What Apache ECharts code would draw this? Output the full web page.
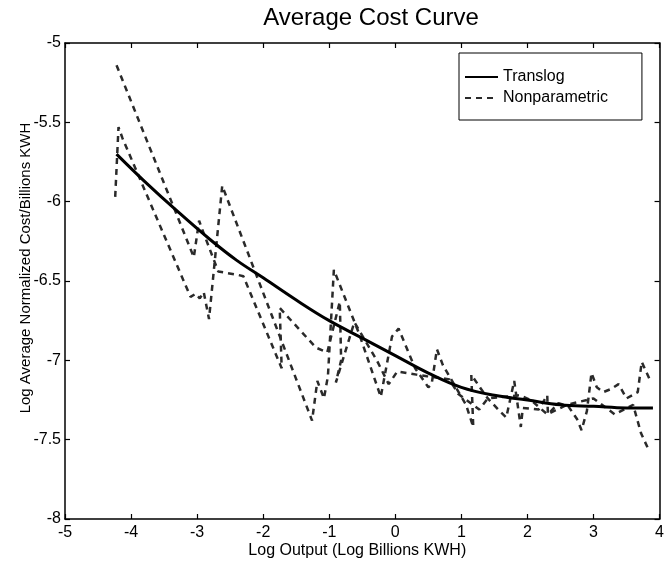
<!DOCTYPE html>
<html>
<head>
<meta charset="utf-8">
<script src="https://cdn.jsdelivr.net/npm/echarts@6/dist/echarts.min.js"></script>
<style>
html,body{margin:0;padding:0;background:#fff;}
#chart{width:667px;height:564px;}
</style>
</head>
<body>
<div id="chart"></div>
<script>
// ---- data ----
const chartTitle = 'Average Cost Curve';
const xAxisName = 'Log Output (Log Billions KWH)';
const yAxisName = 'Log Average Normalized Cost/Billions KWH';
const seriesNames = ['Translog', 'Nonparametric'];

const translogX = [-4.22, -3.8, -3.3, -2.8, -2.4, -2.0, -1.5, -1.0, -0.5, 0.0, 0.5, 1.0, 1.5, 2.0, 2.5, 3.0, 3.5, 3.9];
const translogY = [-5.70, -5.87, -6.06, -6.24, -6.37, -6.48, -6.62, -6.75, -6.86, -6.97, -7.08, -7.17, -7.22, -7.25, -7.28, -7.29, -7.30, -7.30];

// nonparametric estimate, first strand (path order)
const nonparA_X = [-4.24, -4.19, -4.13, -3.10, -3.02, -2.96, -2.90, -2.82, -2.62, -1.26, -1.18, -1.08, -1.02, -0.93, -0.55, -0.22, -0.05, 0.05, 0.30, 0.50, 0.55, 0.63, 0.72, 1.07, 1.18, 1.15, 1.28, 1.40, 1.58, 1.68, 1.80, 1.90, 1.93, 2.17, 2.30, 2.31, 2.47, 2.62, 2.75, 2.82, 2.90, 2.97, 3.05, 3.15, 3.27, 3.38, 3.50, 3.67, 3.73, 3.85];
const nonparA_Y = [-5.97, -5.53, -5.60, -6.60, -6.58, -6.61, -6.57, -6.74, -5.90, -7.38, -7.13, -7.24, -7.10, -6.43, -6.83, -7.23, -6.85, -6.80, -7.05, -7.17, -7.15, -6.93, -7.03, -7.28, -7.42, -7.09, -7.17, -7.24, -7.32, -7.36, -7.13, -7.42, -7.30, -7.31, -7.22, -7.34, -7.27, -7.29, -7.37, -7.44, -7.32, -7.08, -7.17, -7.20, -7.18, -7.15, -7.24, -7.20, -7.01, -7.12];

// nonparametric estimate, second strand (path order)
const nonparB_X = [-4.22, -3.05, -2.97, -2.90, -2.68, -2.40, -2.30, -1.72, -1.75, -1.20, -1.03, -0.84, -0.82, -0.90, -0.62, -0.28, -0.10, 0.03, 0.32, 0.48, 0.82, 0.95, 1.27, 1.40, 1.88, 2.05, 2.30, 2.60, 3.00, 3.32, 3.60, 3.72, 3.83];
const nonparB_Y = [-5.14, -6.35, -6.12, -6.20, -6.44, -6.46, -6.47, -7.05, -6.67, -6.92, -6.95, -6.63, -7.00, -7.14, -6.76, -7.00, -7.15, -7.07, -7.09, -7.10, -7.12, -7.21, -7.31, -7.24, -7.22, -7.25, -7.34, -7.28, -7.24, -7.34, -7.28, -7.46, -7.56];

const xMin = -5, xMax = 4, xStep = 1;
const yMin = -8, yMax = -5, yStep = 0.5;

function zip(xs, ys) { return xs.map((x, i) => [x, ys[i]]); }

const FONT = '"Liberation Sans", Arial, Helvetica, sans-serif';
const chart = echarts.init(document.getElementById('chart'), null, {renderer: 'canvas'});

const axisLine = {show: true, onZero: false, lineStyle: {color: '#000', width: 1.5}};
const axisTick = {show: true, inside: true, length: 5, lineStyle: {color: '#000', width: 1.2}};
const dashStyle = {color: '#2a2a2a', width: 2.5, type: [6, 5]};

chart.setOption({
  animation: false,
  backgroundColor: '#fff',
  color: ['#000', '#2a2a2a', '#2a2a2a'],
  title: {
    text: chartTitle,
    left: 366,
    textAlign: 'center',
    top: 1,
    textStyle: {fontFamily: FONT, fontSize: 24, fontWeight: 'normal', color: '#000'}
  },
  legend: {
    data: seriesNames,
    orient: 'vertical',
    left: 459,
    top: 53,
    padding: [16, 34, 14, 5],
    itemGap: 5,
    itemWidth: 33,
    itemHeight: 14,
    borderColor: '#000',
    borderWidth: 1,
    backgroundColor: '#fff',
    itemStyle: {opacity: 0},
    textStyle: {fontFamily: FONT, fontSize: 16, color: '#000', lineHeight: 16}
  },
  grid: {left: 65, right: 2, top: 43, bottom: 45, containLabel: false},
  xAxis: [{
    type: 'value', min: xMin, max: xMax, interval: xStep,
    position: 'bottom',
    name: xAxisName, nameLocation: 'middle', nameGap: 24, nameMoveOverlap: false,
    nameTextStyle: {fontFamily: FONT, fontSize: 16, color: '#000', padding: [0, 10, 0, 0]},
    axisLine: axisLine, axisTick: axisTick,
    axisLabel: {fontFamily: FONT, fontSize: 16, color: '#000', margin: 6},
    splitLine: {show: false}
  }, {
    type: 'value', min: xMin, max: xMax, interval: xStep,
    position: 'top',
    axisLine: axisLine, axisTick: axisTick,
    axisLabel: {show: false}, splitLine: {show: false}
  }],
  yAxis: [{
    type: 'value', min: yMin, max: yMax, interval: yStep,
    position: 'left',
    name: yAxisName, nameLocation: 'middle', nameGap: 32, nameRotate: 90, nameMoveOverlap: false,
    nameTextStyle: {fontFamily: FONT, fontSize: 15, color: '#000', padding: [0, 0, 0, 26]},
    axisLine: axisLine, axisTick: axisTick,
    axisLabel: {fontFamily: FONT, fontSize: 16, color: '#000', margin: 4},
    splitLine: {show: false}
  }, {
    type: 'value', min: yMin, max: yMax, interval: yStep,
    position: 'right',
    axisLine: axisLine, axisTick: axisTick,
    axisLabel: {show: false}, splitLine: {show: false}
  }],
  series: [{
    name: seriesNames[0], type: 'line', data: zip(translogX, translogY),
    smooth: 0.4, symbol: 'none', z: 3,
    itemStyle: {color: '#000'},
    lineStyle: {color: '#000', width: 3}
  }, {
    name: seriesNames[1], type: 'line', data: zip(nonparA_X, nonparA_Y),
    symbol: 'none', z: 2,
    itemStyle: {color: '#2a2a2a'},
    lineStyle: dashStyle
  }, {
    name: seriesNames[1], type: 'line', data: zip(nonparB_X, nonparB_Y),
    symbol: 'none', z: 2,
    itemStyle: {color: '#2a2a2a'},
    lineStyle: dashStyle
  }]
});
</script>
</body>
</html>
